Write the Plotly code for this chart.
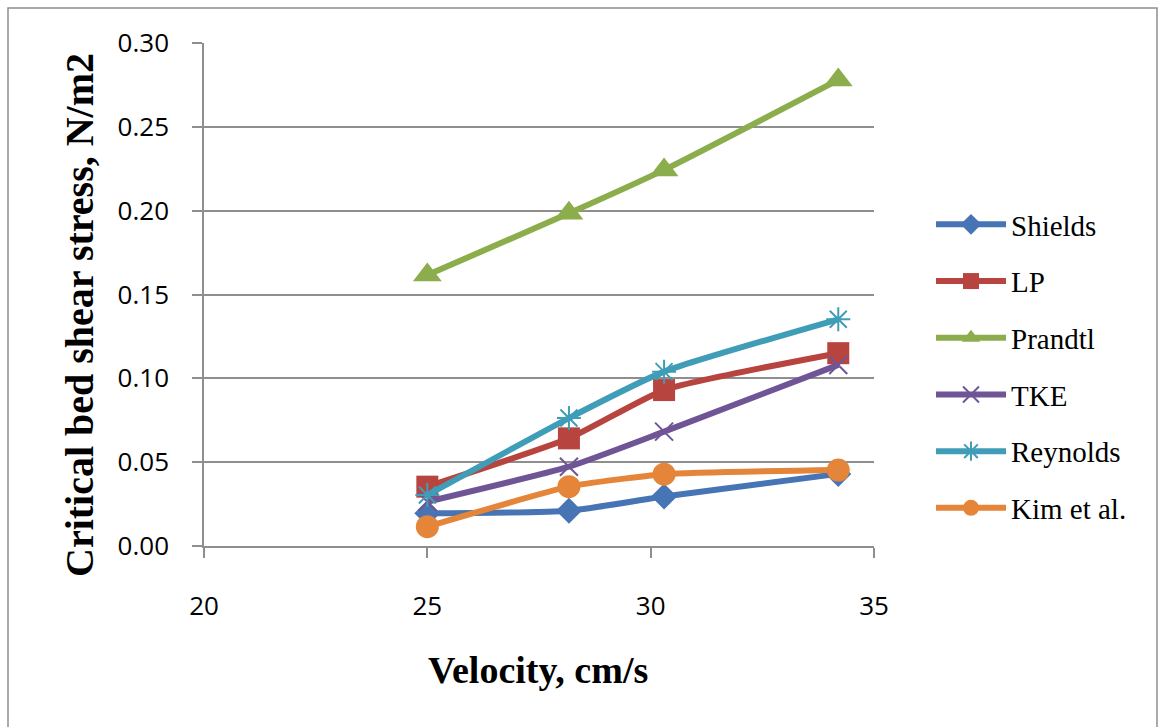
import plotly.graph_objects as go

# Flow velocity (cm/s) at which each method was evaluated
velocity = [25.0, 28.17, 30.3, 34.2]

# Critical bed shear stress (N/m2) estimated by each method
shields = [0.0195, 0.0210, 0.0295, 0.0430]
lp = [0.0354, 0.0642, 0.0930, 0.1150]
prandtl = [0.1616, 0.1984, 0.2243, 0.2780]
tke = [0.0264, 0.0473, 0.0682, 0.1080]
reynolds = [0.0304, 0.0763, 0.1040, 0.1352]
kim = [0.0115, 0.0354, 0.0428, 0.0453]

series_names = ["Shields", "LP", "Prandtl", "TKE", "Reynolds", "Kim et al."]
series_values = [shields, lp, prandtl, tke, reynolds, kim]
colors = ["#4674B4", "#B8443F", "#8CAD4B", "#705596", "#3F9DB7", "#E4853A"]
symbols = ["diamond", "square", "triangle-up", "x-thin", "asterisk", "circle"]
sizes = [20, 22, 25, 18, 20, 23]

fig = go.Figure()
for name, vals, col, sym, sz in zip(series_names, series_values, colors, symbols, sizes):
    thin = sym in ("x-thin", "asterisk")
    fig.add_trace(go.Scatter(
        x=velocity, y=vals, name=name, mode="lines+markers",
        legendgroup=name,
        line=dict(color=col, width=6, shape="spline", smoothing=0.5),
        marker=dict(symbol=sym, size=sz, color=col,
                    line=dict(color=col, width=2 if thin else 0)),
    ))

grid = "#8E8E8E"
tick_font = dict(family="Open Sans", size=26, color="#000000")
fig.update_xaxes(
    range=[20, 35], tickvals=[20, 25, 30, 35], ticktext=["20", "25", "30", "35"],
    showgrid=False, zeroline=False, showline=True, linecolor=grid, linewidth=1.5,
    ticks="outside", ticklen=10, tickcolor=grid, tickwidth=1.5,
    tickfont=tick_font, ticklabelstandoff=26,
)
fig.update_yaxes(
    range=[0, 0.30], tickvals=[0, 0.05, 0.10, 0.15, 0.20, 0.25, 0.30],
    tickformat=".2f",
    showgrid=True, gridcolor=grid, gridwidth=1.5, zeroline=False,
    showline=True, linecolor=grid, linewidth=1.5,
    ticks="outside", ticklen=10, tickcolor=grid, tickwidth=1.5,
    tickfont=tick_font, ticklabelstandoff=18,
)

# pixel helpers for paper coordinates (plot area spans x 204..874, y 43..546)
def px(xp):
    return (xp - 204) / 670.0

def py(yp):
    return (546 - yp) / 503.0

fig.update_layout(
    width=1160, height=727,
    margin=dict(l=204, r=286, t=43, b=181, autoexpand=False),
    paper_bgcolor="#FFFFFF", plot_bgcolor="#FFFFFF",
    showlegend=True,
    legend=dict(
        x=px(931), y=py(199), xanchor="left", yanchor="top",
        font=dict(family="Liberation Serif", size=29, color="#000000"),
        tracegroupgap=16, itemwidth=70, bgcolor="rgba(0,0,0,0)",
    ),
    annotations=[
        dict(text="<b>Velocity, cm/s</b>", xref="paper", yref="paper",
             x=px(538), y=py(670), xanchor="center", yanchor="middle",
             showarrow=False,
             font=dict(family="Liberation Serif", size=38, color="#000000")),
        dict(text="<b>Critical bed shear stress, N/m2</b>", xref="paper", yref="paper",
             x=px(79), y=py(315), xanchor="center", yanchor="middle",
             showarrow=False, textangle=-90,
             font=dict(family="Liberation Serif", size=40, color="#000000")),
    ],
    shapes=[
        dict(type="rect", xref="paper", yref="paper",
             x0=px(8), x1=px(1157), y0=py(740), y1=py(8),
             line=dict(color="#8E8E8E", width=1.5), layer="below"),
    ],
)

fig.write_html("out.html")
